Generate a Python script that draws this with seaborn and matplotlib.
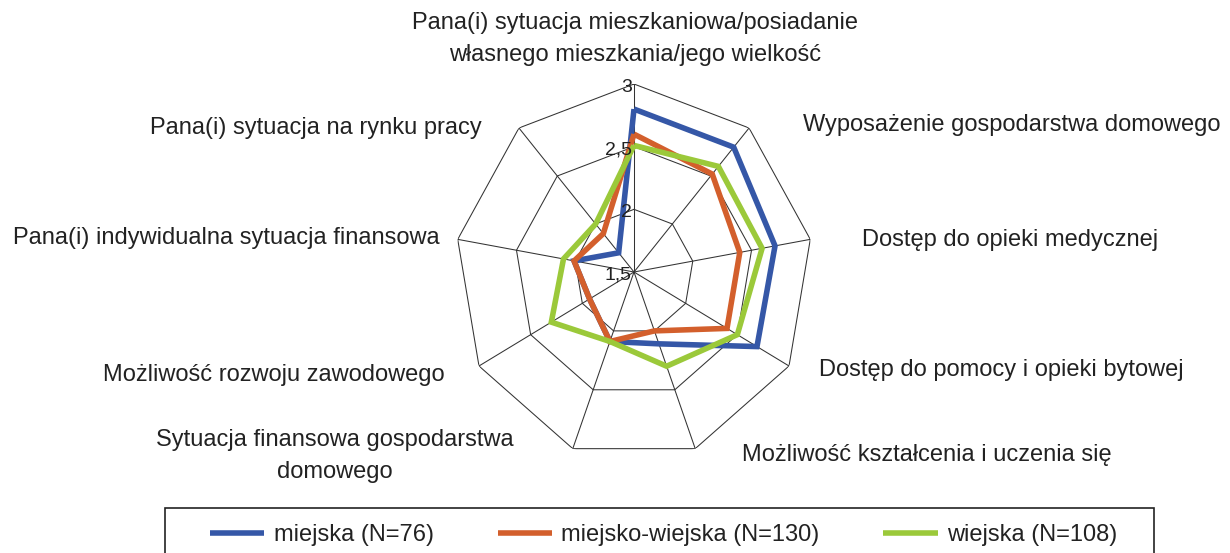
import numpy as np
import pandas as pd
import matplotlib
matplotlib.use('Agg')
import matplotlib.pyplot as plt
import seaborn as sns
from matplotlib.patches import Rectangle

# categories clockwise from the top
categories = [
    'Pana(i) sytuacja mieszkaniowa/posiadanie\nwłasnego mieszkania/jego wielkość',
    'Wyposażenie gospodarstwa domowego',
    'Dostęp do opieki medycznej',
    'Dostęp do pomocy i opieki bytowej',
    'Możliwość kształcenia i uczenia się',
    'Sytuacja finansowa gospodarstwa\ndomowego',
    'Możliwość rozwoju zawodowego',
    'Pana(i) indywidualna sytuacja finansowa',
    'Pana(i) sytuacja na rynku pracy',
]
series_names = ['miejska (N=76)', 'miejsko-wiejska (N=130)', 'wiejska (N=108)']
miejska = [2.80, 2.80, 2.70, 2.69, 2.11, 2.09, 1.93, 2.01, 1.70]
miejsko_wiejska = [2.60, 2.52, 2.40, 2.40, 2.00, 2.09, 1.93, 2.01, 1.90]
wiejska = [2.51, 2.60, 2.59, 2.50, 2.30, 2.09, 2.30, 2.10, 2.00]
ring_levels = [1.5, 2.0, 2.5, 3.0]
ring_labels = ['1,5', '2', '2,5', '3']

colors = ['#3557A7', '#D35F2C', '#9BC93A']

# label placement in pixels (x, y, ha)
label_layout = [
    (635, 39, 'center'),
    (803, 125, 'left'),
    (862, 240, 'left'),
    (819, 370, 'left'),
    (742, 455, 'left'),
    (335, 456, 'center'),
    (445, 375, 'right'),
    (440, 238, 'right'),
    (482, 128, 'right'),
]

sns.set_theme(style='white')
plt.rcParams['font.family'] = ['Liberation Sans', 'DejaVu Sans']

W, H = 1230, 553
fig = plt.figure(figsize=(W / 100, H / 100), dpi=100)
cx, cy, rx, ry = 634, 272, 179, 188
ax = fig.add_axes([(cx - rx) / W, (H - cy - ry) / H, 2 * rx / W, 2 * ry / H],
                  projection='polar')
ax.set_aspect('auto')
ax.set_theta_zero_location('N')
ax.set_theta_direction(-1)

n = len(categories)
angles = np.linspace(0, 2 * np.pi, n, endpoint=False)
angles_closed = np.append(angles, 2 * np.pi)

rows = []
for name, vals in zip(series_names, [miejska, miejsko_wiejska, wiejska]):
    for a, v in zip(angles_closed, vals + vals[:1]):
        rows.append({'theta': a, 'value': v, 'group': name})
df = pd.DataFrame(rows)

sns.lineplot(data=df, x='theta', y='value', hue='group',
             palette=dict(zip(series_names, colors)), sort=False,
             estimator=None, linewidth=4.0, legend=False, ax=ax, zorder=3)
handles = list(ax.lines[:3])
for ln in handles:
    ln.set_solid_joinstyle('miter')
    ln.set_solid_capstyle('butt')

# polygon grid
for lvl in ring_levels[1:]:
    ax.plot(angles_closed, [lvl] * (n + 1), color='#333333', lw=0.75, zorder=1)
for a in angles:
    ax.plot([a, a], [ring_levels[0], ring_levels[-1]], color='#333333', lw=0.75, zorder=1)

ax.set_ylim(1.5, 3)
ax.set_xticks([])
ax.set_yticks([])
ax.grid(False)
ax.spines['polar'].set_visible(False)
ax.set_xlabel('')
ax.set_ylabel('')
ax.patch.set_alpha(0)

for lvl, lbl in zip(ring_levels, ring_labels):
    ax.annotate(lbl, xy=(0, lvl), xytext=(-1.5, -2.5), textcoords='offset points',
                ha='right', va='center', fontsize=14, color='#222222', zorder=4)

for cat, (x, y, ha) in zip(categories, label_layout):
    fig.text(x / W, 1 - y / H, cat, ha=ha, va='center', fontsize=17,
             color='#222222', linespacing=1.62, multialignment='center')

fig.legend(handles, series_names, loc='center left',
           bbox_to_anchor=(210 / W, 1 - 535 / H), ncol=3, frameon=False,
           fontsize=17, handlelength=2.3, handletextpad=0.4, columnspacing=2.7,
           borderpad=0, borderaxespad=0, labelcolor='#222222')
fig.add_artist(Rectangle((165 / W, 1 - 575 / H), (1154 - 165) / W, (575 - 508) / H,
                         transform=fig.transFigure, fill=False,
                         edgecolor='#222222', lw=1.2))

fig.savefig('out.png', dpi=100, facecolor='white')
